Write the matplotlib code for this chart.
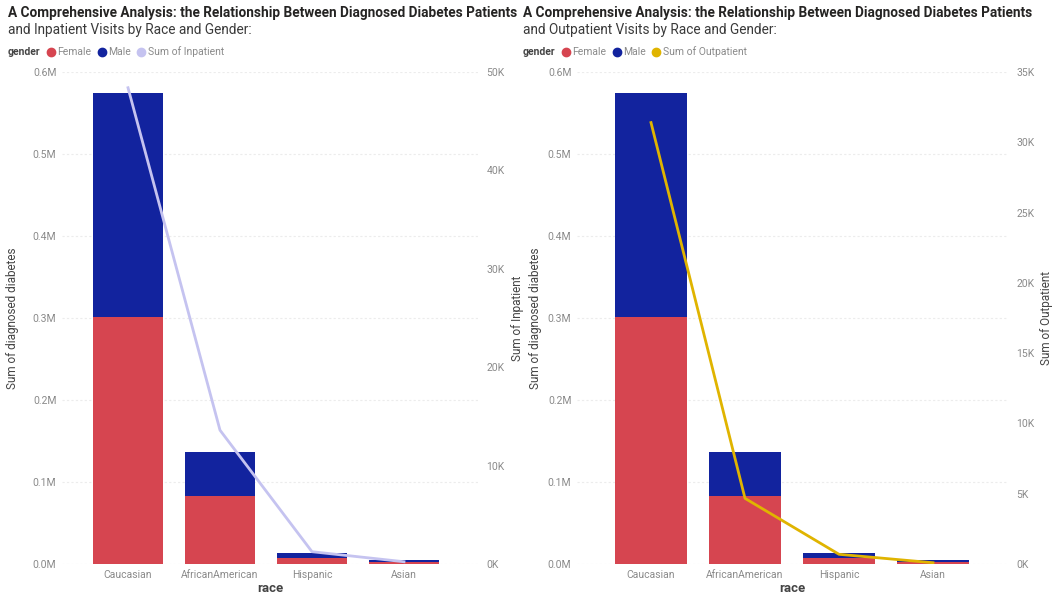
import matplotlib.pyplot as plt
from matplotlib.lines import Line2D
from matplotlib.ticker import FuncFormatter

# ---- data ----
races = ["Caucasian", "AfricanAmerican", "Hispanic", "Asian"]
female = [0.301e6, 0.083e6, 0.0073e6, 0.0027e6]
male = [0.273e6, 0.054e6, 0.0066e6, 0.0020e6]
inpatient = [48400, 13600, 1250, 230]
outpatient = [31400, 4670, 690, 90]

FEMALE_C = "#D64550"
MALE_C = "#12239E"
INPAT_C = "#C5C3F0"
OUTPAT_C = "#E0B400"
TICK_C = "#8a8a8a"
LABEL_C = "#444444"

plt.rcParams['font.family'] = ['Roboto', 'DejaVu Sans']

W, H = 1058, 598
fig = plt.figure(figsize=(W / 100, H / 100), dpi=100)


def px_axes(x0, x1, y0, y1):
    # pixel box (top-origin) -> figure fraction
    return fig.add_axes([x0 / W, (H - y1) / H, (x1 - x0) / W, (y1 - y0) / H])


def m_fmt(v, _):
    return f"{v / 1e6:.1f}M"


def k_fmt(v, _):
    return f"{v / 1e3:.0f}K"


def draw_panel(x0, x1, centre0, step, line_vals, line_color, line_name, rmax, rstep,
               title2, left_lab_x, right_lab_x):
    ax = px_axes(x0, x1, 72, 564)
    xs = list(range(len(races)))
    ax.bar(xs, female, width=0.77, color=FEMALE_C, zorder=2)
    ax.bar(xs, male, width=0.77, bottom=female, color=MALE_C, zorder=2)
    ax.set_xlim(-(centre0 - x0) / step, -(centre0 - x0) / step + (x1 - x0) / step)
    ax.set_ylim(0, 0.6e6)
    ax.set_yticks([i * 0.1e6 for i in range(7)])
    ax.yaxis.set_major_formatter(FuncFormatter(m_fmt))
    ax.set_xticks(xs)
    ax.set_xticklabels(races)
    ax.tick_params(length=0, labelsize=7.5, colors=TICK_C, pad=4)
    ax.grid(axis='y', color='#ececec', linestyle=(0, (2, 2)), linewidth=0.8, zorder=0)
    for s in ax.spines.values():
        s.set_visible(False)
    ymid = 0.5 * (1 - 72 / H + 1 - 564 / H)
    ax.set_ylabel("Sum of diagnosed diabetes", fontsize=8.5, color=LABEL_C)
    ax.yaxis.set_label_coords((left_lab_x + 5) / W, ymid, transform=fig.transFigure)
    ax.set_xlabel("race", fontsize=9.5, color=LABEL_C, fontweight='bold', labelpad=2)

    ax2 = ax.twinx()
    ax2.plot(xs, line_vals, color=line_color, linewidth=2, zorder=3)
    ax2.set_ylim(0, rmax)
    ax2.set_yticks(list(range(0, rmax + 1, rstep)))
    ax2.yaxis.set_major_formatter(FuncFormatter(k_fmt))
    ax2.tick_params(length=0, labelsize=7.5, colors=TICK_C, pad=6)
    for s in ax2.spines.values():
        s.set_visible(False)
    ax2.set_ylabel(line_name, fontsize=8.5, color=LABEL_C)
    ax2.yaxis.set_label_coords((right_lab_x - 5) / W, ymid, transform=fig.transFigure)

    # title
    tx = (x0 - 54) / W
    fig.text(tx, 1 - 13 / H, "A Comprehensive Analysis: the Relationship Between Diagnosed Diabetes Patients",
             fontsize=9.8, fontweight='bold', color='#252423', va='center')
    fig.text(tx, 1 - 30 / H, title2, fontsize=9.8, color='#3a3a3a', va='center')

    # legend
    handles = [
        Line2D([], [], marker='o', linestyle='', color=FEMALE_C, markersize=6),
        Line2D([], [], marker='o', linestyle='', color=MALE_C, markersize=6),
        Line2D([], [], marker='o', linestyle='', color=line_color, markersize=6),
    ]
    fig.text(tx, 1 - 52 / H, "gender", fontsize=7.5, fontweight='bold', color=LABEL_C, va='center')
    fig.legend(handles, ["Female", "Male", line_name], loc='center left',
               bbox_to_anchor=(tx + 37 / W, 1 - 52 / H), ncol=3, frameon=False,
               fontsize=7.5, labelcolor=TICK_C, handletextpad=0.0, columnspacing=0.4,
               handlelength=1.2, borderpad=0, borderaxespad=0)
    return ax


draw_panel(62, 478, 128, 92, inpatient, INPAT_C, "Sum of Inpatient", 50000, 10000,
           "and Inpatient Visits by Race and Gender:", 14, 516)
draw_panel(577, 1008, 651, 94, outpatient, OUTPAT_C, "Sum of Outpatient", 35000, 5000,
           "and Outpatient Visits by Race and Gender:", 537, 1045)

fig.savefig("out.png", dpi=100, facecolor='white')
